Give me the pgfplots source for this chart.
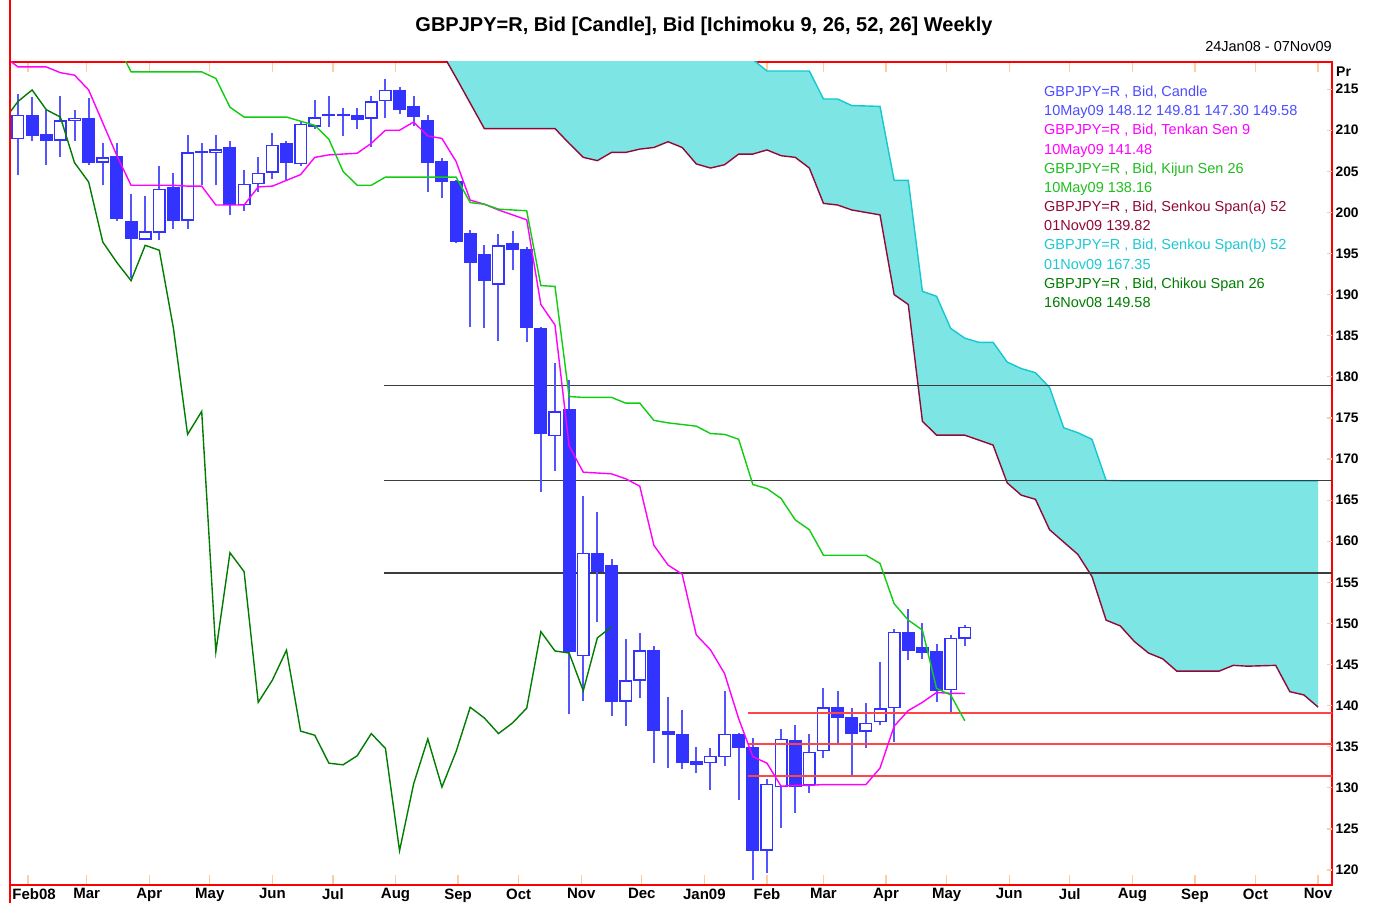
\documentclass[border=0pt]{standalone}
\usepackage{pgfplots}
\pgfplotsset{compat=1.18}
\usepackage{pgfplotstable}
\usepackage{fontspec}
\setmainfont{Liberation Sans}

\definecolor{candle}{RGB}{51,51,255}
\definecolor{wickc}{RGB}{85,85,255}
\definecolor{tenkanc}{RGB}{255,0,255}
\definecolor{kijunc}{RGB}{17,204,17}
\definecolor{spanAc}{RGB}{145,10,55}
\definecolor{spanBc}{RGB}{20,200,210}
\definecolor{cloudc}{RGB}{126,229,229}
\definecolor{chikouc}{RGB}{0,125,0}
\definecolor{tickor}{RGB}{255,205,160}
\definecolor{legblue}{RGB}{77,77,255}
\definecolor{legcyan}{RGB}{30,200,210}
\definecolor{leggreen}{RGB}{30,190,30}
\definecolor{hlinec}{RGB}{60,60,60}
\definecolor{rlinec}{RGB}{255,70,70}

% up (hollow) candles: index, open, high, low, close
\pgfplotstableread{
i O H L C
0 208.9 214.4 204.5 211.85
3 208.7 214.2 206.7 211.2
4 211.1 212.4 208.7 211.5
6 206.05 208.4 203.3 206.7
9 196.7 202.0 196.6 197.7
10 197.5 205.6 196.6 202.9
12 199.0 209.4 198.0 207.3
14 207.2 209.4 203.3 207.7
16 200.9 205.2 200.2 203.5
17 203.4 206.8 202.5 204.8
18 204.8 209.7 204.1 208.2
20 205.85 211.1 205.6 210.8
21 210.4 213.7 210.2 211.6
25 211.4 214.2 208.0 213.5
26 213.5 216.2 211.45 214.9
34 191.2 197.4 184.3 196.0
38 172.8 181.7 168.6 175.8
40 146.0 165.5 140.55 158.6
43 140.5 148.1 137.5 143.1
44 143.0 148.8 140.9 146.75
49 133.0 134.8 129.7 133.9
50 133.7 141.8 132.7 136.6
53 122.35 131.1 119.6 130.5
54 130.1 137.2 125.1 135.95
56 130.3 136.6 129.4 134.4
57 134.45 142.1 133.6 139.8
60 136.8 140.3 134.9 137.9
61 138.0 145.3 137.6 139.7
62 139.7 149.3 135.6 149.0
66 141.9 148.6 138.95 148.25
67 148.12 149.81 147.30 149.58
}\upc

% down (filled) candles
\pgfplotstableread{
i O H L C
1 211.9 214.0 208.7 209.3
2 209.6 212.4 205.8 208.7
5 211.5 213.9 205.8 206.0
7 206.9 208.4 199.0 199.2
8 199.0 202.2 192.0 196.8
11 203.1 204.8 198.0 199.0
13 207.5 208.4 203.3 207.25
15 207.9 208.7 199.7 200.9
19 208.4 208.7 203.9 206.05
22 211.95 214.2 210.4 211.7
23 211.95 212.7 209.3 211.7
24 211.85 212.7 210.1 211.2
27 214.9 215.2 212.0 212.5
28 212.9 214.2 210.5 211.6
29 211.2 211.9 202.5 206.05
30 206.2 206.6 201.7 203.7
31 203.8 203.9 196.3 196.4
32 197.55 197.9 186.05 193.9
33 194.95 196.0 185.9 191.7
35 196.25 197.7 193.0 195.4
36 195.6 195.8 184.2 185.9
37 185.95 186.1 166.0 173.0
39 176.1 179.6 138.95 146.55
41 158.6 163.6 150.2 156.3
42 157.1 157.8 138.7 140.4
45 146.75 147.3 133.0 136.9
46 136.9 141.1 132.45 136.4
47 136.6 139.5 132.3 133.0
48 133.3 134.95 131.8 132.8
51 136.6 136.7 128.5 134.8
52 134.95 136.1 118.8 122.35
55 135.8 137.6 126.9 130.1
58 139.8 141.8 135.3 138.5
59 138.65 139.7 131.4 136.6
63 149.0 151.7 145.55 146.65
64 147.1 150.1 145.7 146.4
65 146.65 147.5 140.4 141.8
}\downc

\pgfplotstableread{
i v
-1 219.0
0 217.7
1 217.7
2 217.7
3 217.0
4 216.7
5 214.9
6 210.9
7 206.9
8 203.3
9 203.3
10 203.3
11 203.3
12 203.2
13 203.2
14 200.9
15 200.9
16 200.9
17 203.1
18 203.2
19 203.9
20 204.6
21 206.7
22 207.0
23 207.1
24 207.2
25 208.4
26 210.0
27 210.0
28 211.0
29 209.3
30 209.0
31 206.2
32 201.5
33 201.0
34 200.3
35 199.7
36 199.1
37 188.8
38 186.3
39 171.6
40 168.4
41 168.3
42 168.2
43 167.6
44 166.7
45 159.5
46 157.1
47 156.0
48 148.6
49 146.8
50 143.9
51 138.4
52 133.8
53 133.0
54 130.2
55 130.3
56 130.3
57 130.4
58 130.4
59 130.4
60 130.4
61 132.4
62 137.5
63 139.4
64 140.4
65 141.6
66 141.5
67 141.48
}\tenkan

\pgfplotstableread{
i v
-1 220.5
0 220.5
1 220.5
2 220.5
3 220.5
4 220.5
5 220.5
6 220.5
7 220.5
8 217.1
9 217.1
10 217.1
11 217.1
12 217.1
13 217.1
14 216.3
15 212.8
16 211.6
17 211.6
18 211.6
19 211.6
20 211.1
21 210.6
22 208.9
23 205.0
24 203.3
25 203.3
26 204.3
27 204.3
28 204.3
29 204.3
30 204.3
31 204.3
32 201.2
33 201.0
34 200.4
35 200.3
36 200.2
37 191.1
38 191.0
39 177.6
40 177.5
41 177.5
42 177.5
43 176.8
44 176.8
45 174.7
46 174.4
47 174.2
48 174.0
49 173.1
50 173.0
51 172.4
52 166.9
53 166.4
54 165.2
55 162.6
56 161.4
57 158.3
58 158.3
59 158.3
60 158.3
61 157.3
62 152.4
63 150.4
64 149.2
65 142.1
66 141.3
67 138.16
}\kijun

\pgfplotstableread{
i v
-1 211.2
0 213.5
1 214.9
2 212.5
3 211.6
4 206.05
5 203.7
6 196.4
7 193.9
8 191.7
9 196.0
10 195.4
11 185.9
12 173.0
13 175.8
14 146.55
15 158.6
16 156.3
17 140.4
18 143.1
19 146.75
20 136.9
21 136.4
22 133.0
23 132.8
24 133.9
25 136.6
26 134.8
27 122.35
28 130.5
29 135.95
30 130.1
31 134.4
32 139.8
33 138.5
34 136.6
35 137.9
36 139.7
37 149.0
38 146.65
39 146.4
40 141.8
41 148.25
42 149.58
}\chikou

\pgfplotstableread{
i v
29 222.5
30 219.4
31 216.4
32 213.3
33 210.2
34 210.2
35 210.2
36 210.2
37 210.2
38 210.2
39 208.4
40 206.7
41 206.3
42 207.3
43 207.3
44 207.7
45 207.9
46 208.6
47 207.9
48 205.9
49 205.4
50 205.8
51 207.1
52 207.1
53 207.6
54 206.9
55 206.7
56 205.4
57 201.1
58 200.9
59 200.3
60 200.0
61 199.7
62 190.0
63 188.8
64 174.6
65 172.9
66 172.9
67 172.9
68 172.3
69 171.7
70 167.1
71 165.6
72 165.1
73 161.4
74 159.9
75 158.4
76 155.7
77 150.4
78 149.7
79 147.8
80 146.4
81 145.7
82 144.2
83 144.2
84 144.2
85 144.2
86 144.9
87 144.8
88 144.85
89 144.9
90 141.7
91 141.3
92 139.82
}\spanA

\pgfplotstableread{
i v
51 223.0
52 218.6
53 217.2
54 217.2
55 217.2
56 217.2
57 213.8
58 213.8
59 213.0
60 212.95
61 212.9
62 203.9
63 203.9
64 190.4
65 189.8
66 185.9
67 184.7
68 184.2
69 184.2
70 181.8
71 181.0
72 180.5
73 178.7
74 173.8
75 173.2
76 172.4
77 167.4
78 167.35
79 167.35
80 167.35
81 167.35
82 167.35
83 167.35
84 167.35
85 167.35
86 167.35
87 167.35
88 167.35
89 167.35
90 167.35
91 167.35
92 167.35
}\spanB

% cloud outline: span A forward, span B backward
\pgfplotstableread{
i v
29 222.5
30 219.4
31 216.4
32 213.3
33 210.2
38 210.2
39 208.4
40 206.7
41 206.3
42 207.3
43 207.3
44 207.7
45 207.9
46 208.6
47 207.9
48 205.9
49 205.4
50 205.8
51 207.1
52 207.1
53 207.6
54 206.9
55 206.7
56 205.4
57 201.1
58 200.9
59 200.3
60 200.0
61 199.7
62 190.0
63 188.8
64 174.6
65 172.9
67 172.9
68 172.3
69 171.7
70 167.1
71 165.6
72 165.1
73 161.4
74 159.9
75 158.4
76 155.7
77 150.4
78 149.7
79 147.8
80 146.4
81 145.7
82 144.2
85 144.2
86 144.9
87 144.8
88 144.85
89 144.9
90 141.7
91 141.3
92 139.82
92 167.35
77 167.4
76 172.4
75 173.2
74 173.8
73 178.7
72 180.5
71 181.0
70 181.8
69 184.2
68 184.2
67 184.7
66 185.9
65 189.8
64 190.4
63 203.9
62 203.9
61 212.9
60 212.95
59 213.0
58 213.8
57 213.8
56 217.2
53 217.2
52 218.6
51 223.0
29 223.0
}\cloud

\newcommand{\legline}[3]{\node[anchor=base west, inner sep=0pt, text=#2, font=\fontsize{14.5}{17}\selectfont] at (1044pt,#1pt) {#3};}

\pgfplotsset{
  candlebar/.style n args={2}{draw=none, mark=none, forget plot,
    error bars/.cd, y dir=plus, y explicit, error mark=none,
    error bar style={draw=#1, line width=#2, solid}},
}

\begin{document}
\begin{tikzpicture}
\useasboundingbox (0pt,0pt) rectangle (1388pt,903pt);
\fill[white] (0pt,0pt) rectangle (1388pt,903pt);

\begin{axis}[
  at={(10pt,18pt)}, anchor=south west,
  scale only axis, width=1322pt, height=823pt,
  xmin=-0.566, xmax=92.99, ymin=118.18, ymax=218.3,
  axis line style={draw=red, line width=2pt},
  tick align=inside, major tick length=10pt,
  xtick pos=both,
  xtick={0.714,4.857,9.286,13.571,18,22.286,26.714,31.143,35.429,39.857,44.143,48.571,53,57,61.429,65.714,70.143,74.429,78.857,83.286,87.571,92},
  xticklabels={\hspace*{12pt}Feb08,Mar,Apr,May,Jun,Jul,Aug,Sep,Oct,Nov,Dec,Jan09,Feb,Mar,Apr,May,Jun,Jul,Aug,Sep,Oct,Nov},
  xtick style={draw=tickor, line width=1.2pt},
  xticklabel style={font=\bfseries\fontsize{15}{18}\selectfont, text=black},
  ytick=\empty,
]
% cloud
\addplot [fill=cloudc, draw=none, forget plot] table [x=i, y=v] {\cloud};
\addplot [spanAc, line width=1.4pt, mark=none] table [x=i, y=v] {\spanA};
\addplot [spanBc, line width=1.4pt, mark=none] table [x=i, y=v] {\spanB};
% horizontal levels
\addplot [hlinec, line width=1.7pt, mark=none] coordinates {(25.9,178.95) (93.5,178.95)};
\addplot [hlinec, line width=1.7pt, mark=none] coordinates {(25.9,167.4) (93.5,167.4)};
\addplot [hlinec, line width=1.7pt, mark=none] coordinates {(25.9,156.1) (93.5,156.1)};
% wicks
\addplot [candlebar={wickc}{2pt}]
  table [x=i, y=L, y error expr=\thisrow{H}-\thisrow{L}] {\downc};
\addplot [candlebar={wickc}{2pt}]
  table [x=i, y=L, y error expr=\thisrow{H}-\thisrow{L}] {\upc};
% filled bodies
\addplot [candlebar={candle}{13pt}]
  table [x=i, y=C, y error expr=\thisrow{O}-\thisrow{C}] {\downc};
% hollow bodies
\addplot [candlebar={candle}{13pt}]
  table [x=i, y=O, y error expr=\thisrow{C}-\thisrow{O}] {\upc};
\addplot [candlebar={white}{10pt}]
  table [x=i, y expr=\thisrow{O}+0.18, y error expr=\thisrow{C}-\thisrow{O}-0.36] {\upc};
% red levels
\addplot [rlinec, line width=1.8pt, mark=none] coordinates {(51.66,139.15) (93.5,139.15)};
\addplot [rlinec, line width=1.8pt, mark=none] coordinates {(51.66,135.3) (93.5,135.3)};
\addplot [rlinec, line width=1.8pt, mark=none] coordinates {(51.66,131.45) (93.5,131.45)};
% ichimoku lines
\addplot [tenkanc, line width=1.4pt, mark=none] table [x=i, y=v] {\tenkan};
\addplot [kijunc, line width=1.4pt, mark=none] table [x=i, y=v] {\kijun};
\addplot [chikouc, line width=1.4pt, mark=none] table [x=i, y=v] {\chikou};
\end{axis}

\begin{axis}[
  at={(10pt,18pt)}, anchor=south west,
  scale only axis, width=1322pt, height=823pt,
  xmin=-0.566, xmax=92.99, ymin=118.18, ymax=218.3,
  axis line style={draw=none},
  xtick=\empty,
  tick align=inside, major tick length=5pt,
  ytick pos=right, yticklabel pos=right,
  ytick={120,125,130,135,140,145,150,155,160,165,170,175,180,185,190,195,200,205,210,215},
  yticklabels={120,125,130,135,140,145,150,155,160,165,170,175,180,185,190,195,200,205,210,215},
  ytick style={draw=tickor, line width=1.2pt},
  yticklabel style={font=\bfseries\fontsize{13.8}{16}\selectfont, text=black, anchor=west},
]
\end{axis}

\draw[red, line width=2pt] (10pt,0pt) -- (10pt,903pt);

\node[anchor=base, inner sep=0pt, font=\bfseries\fontsize{20}{24}\selectfont] at (704pt,871pt)
  {GBPJPY=R, Bid [Candle], Bid [Ichimoku 9, 26, 52, 26] Weekly};
\node[anchor=base east, inner sep=0pt, font=\fontsize{14.5}{17}\selectfont] at (1332pt,851pt)
  {24Jan08 - 07Nov09};
\node[anchor=base west, inner sep=0pt, font=\bfseries\fontsize{14}{17}\selectfont] at (1336pt,826pt) {Pr};

\legline{806.3}{legblue}{GBPJPY=R , Bid, Candle}
\legline{787.1}{legblue}{10May09 148.12 149.81 147.30 149.58}
\legline{768.0}{tenkanc}{GBPJPY=R , Bid, Tenkan Sen 9}
\legline{748.8}{tenkanc}{10May09 141.48}
\legline{729.7}{leggreen}{GBPJPY=R , Bid, Kijun Sen 26}
\legline{710.5}{leggreen}{10May09 138.16}
\legline{691.3}{spanAc}{GBPJPY=R , Bid, Senkou Span(a) 52}
\legline{672.2}{spanAc}{01Nov09 139.82}
\legline{653.0}{legcyan}{GBPJPY=R , Bid, Senkou Span(b) 52}
\legline{633.9}{legcyan}{01Nov09 167.35}
\legline{614.7}{chikouc}{GBPJPY=R , Bid, Chikou Span 26}
\legline{595.5}{chikouc}{16Nov08 149.58}
\end{tikzpicture}
\end{document}
